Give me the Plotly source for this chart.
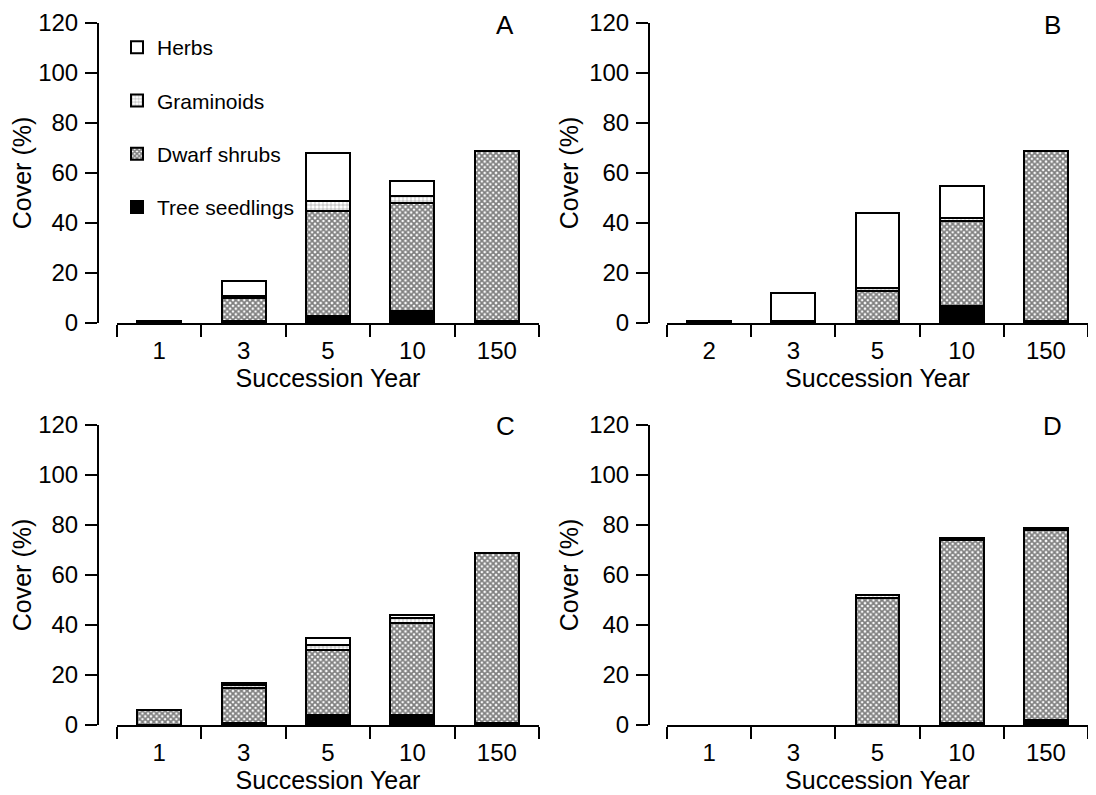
import plotly.graph_objects as go

W, H = 1096, 795
OFF = 8  # page body margin of the written html

cats_A = ["1", "3", "5", "10", "150"]
cats_B = ["2", "3", "5", "10", "150"]
cats_C = ["1", "3", "5", "10", "150"]
cats_D = ["1", "3", "5", "10", "150"]

# cover (%) per group, bottom -> top
tree_A = [0, 1, 3, 5, 1]
dwarf_A = [1, 9, 42, 43, 68]
gram_A = [0, 1, 4, 3, 0]
herbs_A = [0, 6, 19, 6, 0]

tree_B = [0, 0, 1, 7, 1]
dwarf_B = [1, 0, 12, 34, 68]
gram_B = [0, 1, 1, 1, 0]
herbs_B = [0, 11, 30, 13, 0]

tree_C = [0, 1, 4, 4, 1]
dwarf_C = [6, 14, 26, 37, 68]
gram_C = [0, 1, 2, 2, 0]
herbs_C = [0, 1, 3, 1, 0]

tree_D = [0, 0, 0, 1, 2]
dwarf_D = [0, 0, 51, 73, 76]
gram_D = [0, 0, 1, 1, 1]
herbs_D = [0, 0, 0, 0, 0]

y_ticks = [0, 20, 40, 60, 80, 100, 120]
panel_letters = ["A", "B", "C", "D"]

FONT = "Liberation Sans, Arial, Helvetica, sans-serif"
TICK_FONT = 24
TITLE_FONT = 25

series_names = ["Tree seedlings", "Dwarf shrubs", "Graminoids", "Herbs"]
legend_rank = {"Herbs": 1, "Graminoids": 2, "Dwarf shrubs": 3, "Tree seedlings": 4}
styles = {
    "Tree seedlings": dict(color="black"),
    "Dwarf shrubs": dict(color="white", pattern=dict(shape="x", fgcolor="black", bgcolor="white", size=4, solidity=0.7)),
    "Graminoids": dict(color="white", pattern=dict(shape="+", fgcolor="black", bgcolor="white", size=4, solidity=0.2)),
    "Herbs": dict(color="white"),
}

panels = [
    (cats_A, [tree_A, dwarf_A, gram_A, herbs_A]),
    (cats_B, [tree_B, dwarf_B, gram_B, herbs_B]),
    (cats_C, [tree_C, dwarf_C, gram_C, herbs_C]),
    (cats_D, [tree_D, dwarf_D, gram_D, herbs_D]),
]

# pixel layout (screen coords, corrected for page offset below)
xdom_px = [(117, 539), (667, 1088), (117, 539), (667, 1088)]
ypos_px = [98, 649, 98, 649]
ydom_px = [(23, 323), (23, 323), (425, 725), (425, 725)]
# (x center, y top) of the panel letters
letter_px = [(505, 8), (1052, 8), (505, 409), (1052, 409)]

fig = go.Figure()
layout = dict()

for i, (cats, vals) in enumerate(panels):
    n = "" if i == 0 else str(i + 1)
    xa, ya = "x" + n, "y" + n
    for name, v in zip(series_names, vals):
        st = styles[name]
        marker = dict(color=st["color"], line=dict(color="black", width=2))
        if "pattern" in st:
            marker["pattern"] = st["pattern"]
        fig.add_trace(go.Bar(
            x=cats, y=[val if val > 0 else None for val in v],
            name=name, marker=marker, width=0.52,
            xaxis=xa, yaxis=ya, showlegend=(i == 0),
            legendrank=legend_rank[name], legendgroup=name,
        ))
    x0, x1 = xdom_px[i]
    t0, t1 = ydom_px[i]
    layout["xaxis" + n] = dict(
        domain=[(x0 - OFF) / W, (x1 - OFF) / W], anchor=ya, type="category", automargin=False,
        range=[-0.5, 4.5], showline=True, linecolor="black", linewidth=2,
        ticks="outside", tickson="boundaries", ticklen=12, tickwidth=1.5,
        tickcolor="black", showgrid=False, zeroline=False, ticklabelstandoff=5,
        tickfont=dict(family=FONT, size=TICK_FONT, color="black"),
        title=dict(text="Succession Year", font=dict(family=FONT, size=TITLE_FONT, color="black"), standoff=0),
        fixedrange=True,
    )
    layout["yaxis" + n] = dict(
        domain=[1 - (t1 - OFF) / H, 1 - (t0 - OFF) / H], anchor="free",
        position=(ypos_px[i] - OFF) / W, automargin=False,
        range=[0, 120], tickvals=y_ticks, showline=True, linecolor="black", linewidth=2,
        ticks="outside", ticklen=12, tickwidth=1.5, tickcolor="black",
        showgrid=False, zeroline=False, ticklabelstandoff=2,
        tickfont=dict(family=FONT, size=TICK_FONT, color="black"),
        title=dict(text="Cover (%)", font=dict(family=FONT, size=TITLE_FONT, color="black"), standoff=2),
        fixedrange=True,
    )

annotations = []
for letter, (lx, ly) in zip(panel_letters, letter_px):
    annotations.append(dict(
        text=letter, x=(lx - OFF) / W, y=1 - (ly - OFF) / H, xref="paper", yref="paper",
        showarrow=False, xanchor="center", yanchor="top",
        font=dict(family=FONT, size=26, color="black"),
    ))

fig.update_layout(
    **layout,
    barmode="stack",
    width=W, height=H,
    margin=dict(l=0, r=0, t=0, b=0),
    paper_bgcolor="white", plot_bgcolor="white",
    annotations=annotations,
    legend=dict(
        x=109 / W, y=1 - 19 / H, xanchor="left", yanchor="top",
        traceorder="grouped", tracegroupgap=23,
        font=dict(family=FONT, size=21, color="black"),
        bgcolor="rgba(0,0,0,0)", itemwidth=30,
    ),
)

fig.write_html("out.html")
